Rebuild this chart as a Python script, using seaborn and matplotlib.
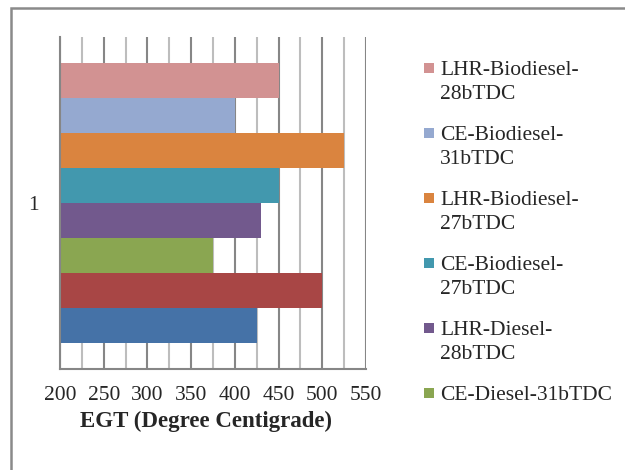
import seaborn as sns
import matplotlib.pyplot as plt
import matplotlib.patches as mpatches
import pandas as pd

# Data, top bar first
series = ["LHR-Biodiesel-28bTDC", "CE-Biodiesel-31bTDC", "LHR-Biodiesel-27bTDC",
          "CE-Biodiesel-27bTDC", "LHR-Diesel-28bTDC", "CE-Diesel-31bTDC",
          "LHR-Diesel-27bTDC", "CE-Diesel-27bTDC"]
egt = [450, 400, 525, 450, 430, 375, 500, 425]
category = ["1"] * len(series)
colors = ["#D29292", "#95A9D0", "#DA843F", "#4298AE",
          "#72598D", "#8AA651", "#A84645", "#4572A7"]
shown_in_legend = 6
xticks = [200, 250, 300, 350, 400, 450, 500, 550]

df = pd.DataFrame({"series": series, "egt": egt, "cat": category})

sns.set_style("white")
plt.rcParams["font.family"] = ["Liberation Serif", "DejaVu Serif"]

W, H = 625, 470
fig = plt.figure(figsize=(W / 100, H / 100), dpi=100)
ax = fig.add_axes([60 / W, 1 - 369 / H, 306 / W, 332 / H])

sns.barplot(data=df, x="egt", y="cat", hue="series", hue_order=series,
            palette=colors, orient="h", width=0.843, saturation=1,
            edgecolor="none", linewidth=0, legend=False, ax=ax)

ax.set_xlim(200, 550)
ax.set_ylim(0.5, -0.5)
ax.set_xticks(xticks)
ax.set_xticks([x + 25 for x in xticks[:-1]], minor=True)
ax.set_xticklabels([str(x) for x in xticks], fontsize=15.5)
ax.set_axisbelow(True)
ax.grid(True, axis="x", which="major", color="#868686", lw=1.5)
ax.grid(True, axis="x", which="minor", color="#bdbdbd", lw=1.5)
ax.grid(False, axis="y")

ax.set_yticks([0])
ax.set_yticklabels(["1"], fontsize=15.5)
ax.set_yticks([-0.5, 0.5], minor=True)
ax.tick_params(axis="y", which="major", length=0, pad=15)
ax.tick_params(axis="y", which="minor", length=7, width=1.5, color="#868686", direction="out")
ax.tick_params(axis="x", which="major", length=6, width=1.5, color="#868686", direction="out", pad=6)
ax.tick_params(axis="x", which="minor", length=0)

for s in ["top", "right"]:
    ax.spines[s].set_visible(False)
for s in ["left", "bottom"]:
    ax.spines[s].set_color("#868686")
    ax.spines[s].set_linewidth(1.5)

ax.set_xlabel("EGT (Degree Centigrade)", fontsize=16.5, fontweight="bold")
ax.xaxis.set_label_coords(0.477, -0.125)
ax.set_ylabel("")

# legend as drawn by the original (square aligned with first text line)
for i in range(shown_in_legend):
    name = series[i]
    if len(name) > 16:
        head, tail = name.rsplit("-", 1)
        lines = [head + "-", tail]
    else:
        lines = [name]
    yc = 68 + 65 * i
    fig.patches.append(mpatches.Rectangle((424 / W, 1 - (yc + 5) / H), 10 / W, 10 / H,
                                          transform=fig.transFigure, color=colors[i], lw=0))
    for j, line in enumerate(lines):
        fig.text(440 / W, 1 - (yc + 24 * j + 7) / H, line, fontsize=15.5, va="baseline")

# outer chart frame (runs off the right and bottom edges)
fig.patches.append(mpatches.Rectangle((11 / W, -0.05), 1.0, 1 - 8 / H + 0.05,
                                      transform=fig.transFigure, fill=False,
                                      edgecolor="#8a8a8a", lw=1.8))

fig.savefig("out.png", dpi=100)
